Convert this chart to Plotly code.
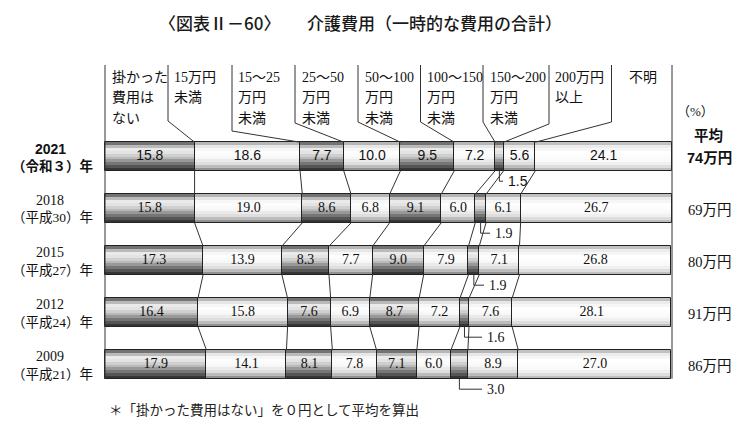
import plotly.graph_objects as go

# ---------------- data ----------------
categories = ["掛かった費用はない", "15万円未満", "15～25万円未満", "25～50万円未満",
              "50～100万円未満", "100～150万円未満", "150～200万円未満", "200万円以上", "不明"]
header_lines = [["掛かった", "費用は", "ない"], ["15万円", "未満"], ["15～25", "万円", "未満"],
                ["25～50", "万円", "未満"], ["50～100", "万円", "未満"], ["100～150", "万円", "未満"],
                ["150～200", "万円", "未満"], ["200万円", "以上"], ["不明"]]
years = ["2021", "2018", "2015", "2012", "2009"]
eras = ["（令和３）年", "（平成30）年", "（平成27）年", "（平成24）年", "（平成21）年"]
averages = ["74万円", "69万円", "80万円", "91万円", "86万円"]
v2021 = [15.8, 18.6, 7.7, 10.0, 9.5, 7.2, 1.5, 5.6, 24.1]
v2018 = [15.8, 19.0, 8.6, 6.8, 9.1, 6.0, 1.9, 6.1, 26.7]
v2015 = [17.3, 13.9, 8.3, 7.7, 9.0, 7.9, 1.9, 7.1, 26.8]
v2012 = [16.4, 15.8, 7.6, 6.9, 8.7, 7.2, 1.6, 7.6, 28.1]
v2009 = [17.9, 14.1, 8.1, 7.8, 7.1, 6.0, 3.0, 8.9, 27.0]
values = [v2021, v2018, v2015, v2012, v2009]
title_left = "〈図表Ⅱ－60〉"
title_right = "介護費用（一時的な費用の合計）"
footnote = "＊「掛かった費用はない」を０円として平均を算出"

# ---------------- layout constants (pixels) ----------------
W, H = 752, 435
X0, X100 = 105.0, 672.0
ROW0, PITCH = 156.5, 52.0
BAR_W = 0.55
SMALL = 6  # category shown with a callout
header_x_px = [105, 168, 232, 295, 358, 420.5, 483, 549, 611.5]
header_text_px = [110, 172, 236, 300, 363, 425, 488, 553, 627]
header_knee_px = [None, 121, 131, 123, 122, 122, 122, 124, 122]
HEADER_TOP = 65.0
callout_text_px = [506, 493, 487, 485, 485]

SANS = "Liberation Sans, Noto Sans CJK JP, sans-serif"
SERIF = "Liberation Serif, Noto Sans CJK JP, serif"
CJK = "Noto Sans CJK JP, sans-serif"

ux = (X100 - X0) / 100.0


def dx(px):
    return (px - X0) / ux


def dy(py):
    return (py - ROW0) / PITCH


def pxp(px):
    return px / W


def pyp(py):
    return 1 - py / H


# cumulative starts
starts = []
for row in values:
    s, acc = [], 0.0
    for v in row:
        s.append(acc)
        acc += v
    starts.append(s)

# shading profiles: (t from top, gray level)
PROF_DARK = [(0, 80), (0.1, 150), (0.22, 236), (0.36, 226), (0.55, 185), (0.75, 118), (0.9, 68), (1, 40)]
PROF_LIGHT = [(0, 150), (0.12, 226), (0.3, 255), (0.55, 246), (0.75, 222), (0.9, 172), (1, 120)]
PROF_PALE = [(0, 172), (0.15, 236), (0.35, 255), (0.7, 248), (0.9, 214), (1, 168)]
cat_prof = [PROF_DARK, PROF_LIGHT, PROF_DARK, PROF_LIGHT, PROF_DARK, PROF_LIGHT, PROF_DARK, PROF_LIGHT, PROF_PALE]


def gray_at(prof, t):
    for (t0, g0), (t1, g1) in zip(prof[:-1], prof[1:]):
        if t0 <= t <= t1:
            g = int(round(g0 + (g1 - g0) * (t - t0) / (t1 - t0)))
            return f"rgb({g},{g},{g})"
    g = prof[-1][1]
    return f"rgb({g},{g},{g})"


rows_i, xs, bases, cats = [], [], [], []
for i, row in enumerate(values):
    for k, v in enumerate(row):
        rows_i.append(i)
        xs.append(v)
        bases.append(starts[i][k])
        cats.append(k)

fig = go.Figure()

N = 10
band_h = BAR_W / N
for b in range(N):
    t0 = b / N
    tc = (b + 0.5) / N
    w = band_h * (1.15 if b < N - 1 else 1.0)
    fig.add_trace(go.Bar(orientation="h", y=rows_i, x=xs, base=bases, width=w,
                         offset=-BAR_W / 2 + t0 * BAR_W,
                         marker=dict(color=[gray_at(cat_prof[c], tc) for c in cats], line=dict(width=0)),
                         hoverinfo="skip", showlegend=False))

# outlines
fig.add_trace(go.Bar(orientation="h", y=rows_i, x=xs, base=bases, width=BAR_W, offset=-BAR_W / 2,
                     marker=dict(color="rgba(0,0,0,0)", line=dict(color="#222222", width=1)),
                     hoverinfo="skip", showlegend=False))

# connector lines between rows
lx, ly = [], []
for i in range(len(values) - 1):
    for k in range(1, len(categories)):
        lx += [starts[i][k], starts[i + 1][k], None]
        ly += [i + BAR_W / 2, i + 1 - BAR_W / 2, None]
# frame lines
for xv in (0, 100):
    lx += [xv, xv, None]
    ly += [dy(HEADER_TOP), len(values) - 1 + BAR_W / 2, None]
# header leader lines
for k in range(1, len(categories)):
    hx = dx(header_x_px[k])
    lx += [hx, hx, starts[0][k], None]
    ly += [dy(HEADER_TOP), dy(header_knee_px[k]), -BAR_W / 2, None]
# callouts for small category
DROP = 0.2
for i, row in enumerate(values):
    c = starts[i][SMALL] + row[SMALL] / 2
    yb = i + BAR_W / 2
    lx += [c, c, dx(callout_text_px[i] - 3), None]
    ly += [yb, yb + DROP, yb + DROP, None]
fig.add_trace(go.Scatter(x=lx, y=ly, mode="lines", line=dict(color="#333333", width=1),
                         hoverinfo="skip", showlegend=False))

# value labels
for i, row in enumerate(values):
    tx = [starts[i][k] + v / 2 for k, v in enumerate(row) if k != SMALL]
    tt = [f"{v:.1f}" for k, v in enumerate(row) if k != SMALL]
    fig.add_trace(go.Scatter(x=tx, y=[i] * len(tx), mode="text", text=tt,
                             textfont=dict(family=SANS if i == 0 else SERIF, size=14, color="#111111"),
                             hoverinfo="skip", showlegend=False))

ann = []
# callout texts
for i, row in enumerate(values):
    ann.append(dict(x=dx(callout_text_px[i]), y=i + BAR_W / 2 + DROP, xref="x", yref="y",
                    text=f"{row[SMALL]:.1f}", showarrow=False, xanchor="left", yanchor="middle",
                    font=dict(family=SANS if i == 0 else SERIF, size=14, color="#111111")))

# header labels
for k, lines in enumerate(header_lines):
    for j, t in enumerate(lines):
        ann.append(dict(x=pxp(header_text_px[k]), y=pyp(77 + 20.5 * j), xref="paper", yref="paper",
                        text=t, showarrow=False, xanchor="left", yanchor="middle",
                        font=dict(family=SERIF, size=14, color="#111111")))

# row labels and averages
for i in range(len(values)):
    cy = ROW0 + PITCH * i
    bold = i == 0
    fam = SANS if bold else SERIF
    wt = "bold" if bold else "normal"
    ann.append(dict(x=pxp(50), y=pyp(cy - 8), xref="paper", yref="paper", text=years[i],
                    showarrow=False, xanchor="center", yanchor="middle",
                    font=dict(family=fam, size=14, color="#111111", weight=wt)))
    ann.append(dict(x=pxp(52.5), y=pyp(cy + 9.5), xref="paper", yref="paper", text=eras[i],
                    showarrow=False, xanchor="center", yanchor="middle",
                    font=dict(family=fam, size=13.5, color="#111111", weight=wt)))
    ann.append(dict(x=pxp(709.5), y=pyp(cy + 1.5), xref="paper", yref="paper", text=averages[i],
                    showarrow=False, xanchor="center", yanchor="middle",
                    font=dict(family=fam, size=14.5, color="#111111", weight=wt)))

ann.append(dict(x=pxp(695), y=pyp(111), xref="paper", yref="paper", text="（%）", showarrow=False,
                xanchor="center", yanchor="middle", font=dict(family=SERIF, size=13, color="#111111")))
ann.append(dict(x=pxp(708), y=pyp(134), xref="paper", yref="paper", text="平均", showarrow=False,
                xanchor="center", yanchor="middle",
                font=dict(family=CJK, size=14.5, color="#111111", weight="bold")))
# title
ann.append(dict(x=pxp(157), y=pyp(23), xref="paper", yref="paper", text=title_left, showarrow=False,
                xanchor="left", yanchor="middle",
                font=dict(family=CJK, size=17, color="#1a1a1a", weight=500)))
ann.append(dict(x=pxp(305), y=pyp(23), xref="paper", yref="paper", text=title_right, showarrow=False,
                xanchor="left", yanchor="middle",
                font=dict(family=CJK, size=17, color="#1a1a1a", weight=500)))
# footnote
ann.append(dict(x=pxp(107), y=pyp(410), xref="paper", yref="paper", text=footnote, showarrow=False,
                xanchor="left", yanchor="middle", font=dict(family=SERIF, size=13.5, color="#222222")))

fig.update_layout(
    width=W, height=H, margin=dict(l=0, r=0, t=0, b=0),
    paper_bgcolor="white", plot_bgcolor="white", barmode="overlay", bargap=0,
    xaxis=dict(range=[dx(0), dx(W)], visible=False, fixedrange=True),
    yaxis=dict(range=[dy(H), dy(0)], visible=False, fixedrange=True),
    annotations=ann, showlegend=False,
)

fig.write_html("out.html", config={"displayModeBar": False},
               post_script="document.body.style.margin='0';document.body.style.overflow='hidden';")
